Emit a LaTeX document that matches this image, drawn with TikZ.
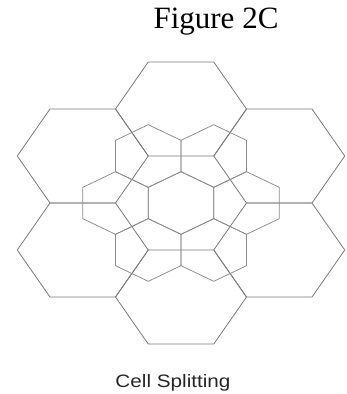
\documentclass[tikz,border=0pt]{standalone}
\usepackage{fontspec}
\setmainfont{Liberation Serif}
\newfontfamily\capfont[FakeStretch=1.15]{Liberation Sans}
\usetikzlibrary{calc}
\tikzset{
  bigcell/.style={draw=black!52, line width=0.8pt},
  smallcell/.style={draw=black!45, line width=0.75pt},
  figtitle/.style={font=\fontsize{31}{36}\selectfont, anchor=base, inner sep=0pt},
  figcaption/.style={font=\capfont\fontsize{18}{22}\selectfont, anchor=base, inner sep=0pt, text=black!85}
}

\begin{document}
\begin{tikzpicture}[x=1pt, y=-1pt]
\useasboundingbox (0,0) rectangle (346,394);

\node[figtitle] (title) at (216,28) {Figure 2C};

% centre of the cluster and the big cells around it
\coordinate (c0) at (181,203);
\coordinate (bn)  at ($(c0)+(0,-94)$);
\coordinate (bs)  at ($(c0)+(0,94)$);
\coordinate (bnw) at ($(c0)+(-98.25,-47)$);
\coordinate (bne) at ($(c0)+(98.25,-47)$);
\coordinate (bsw) at ($(c0)+(-98.25,47)$);
\coordinate (bse) at ($(c0)+(98.25,47)$);

% corners of the centre cell = centres of the split cells
\coordinate (v1) at ($(c0)+(-65.5,0)$);
\coordinate (v2) at ($(c0)+(-32.75,-47)$);
\coordinate (v3) at ($(c0)+(32.75,-47)$);
\coordinate (v4) at ($(c0)+(65.5,0)$);
\coordinate (v5) at ($(c0)+(32.75,47)$);
\coordinate (v6) at ($(c0)+(-32.75,47)$);

\foreach \p in {bn,bs,bnw,bne,bsw,bse}
  \draw[bigcell, shift={(\p)}] (-65.5,0) -- (-32.75,-47) -- (32.75,-47)
    -- (65.5,0) -- (32.75,47) -- (-32.75,47) -- cycle;

\foreach \p in {c0,v1,v2,v3,v4,v5,v6}
  \draw[smallcell, shift={(\p)}] (0,-31.33) -- (32.75,-15.67) -- (32.75,15.67)
    -- (0,31.33) -- (-32.75,15.67) -- (-32.75,-15.67) -- cycle;

\node[figcaption] (caption) at (173,387) {Cell Splitting};
\end{tikzpicture}
\end{document}
